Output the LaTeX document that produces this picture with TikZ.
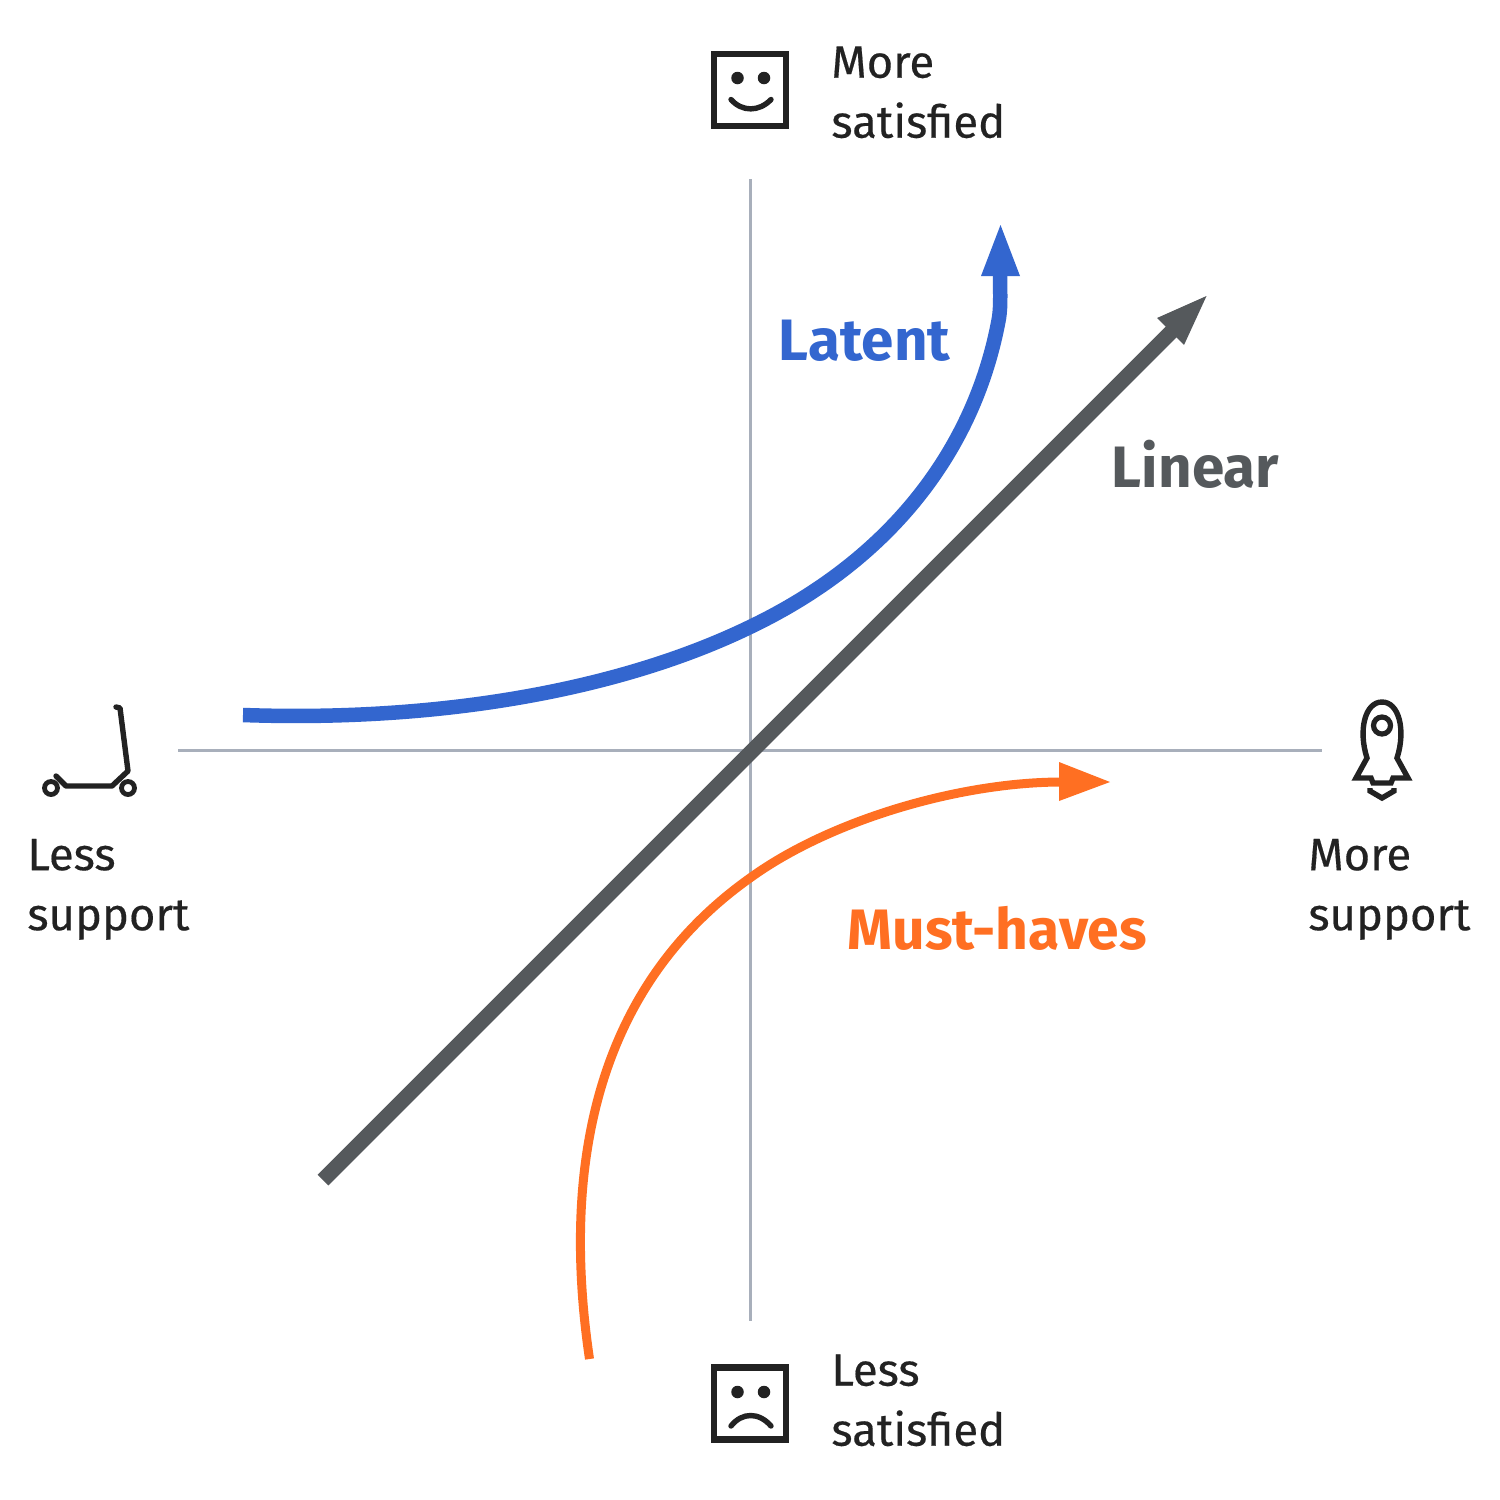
\documentclass[tikz,border=0pt]{standalone}
\usepackage{fontspec}
\setmainfont{Fira Sans}
\newfontface\labfont{Fira Sans}[FakeBold=0.35]
\definecolor{axisc}{HTML}{A8AFBB}
\definecolor{inkc}{HTML}{222222}
\definecolor{bluec}{HTML}{3366CF}
\definecolor{grayc}{HTML}{55595C}
\definecolor{orangec}{HTML}{FF6F22}
\tikzset{
 axisline/.style={draw=axisc,line width=1.5pt},
 icon/.style={draw=inkc,line width=2.7pt,line cap=round,line join=round},
 lab/.style={font=\labfont\fontsize{22.7}{30}\selectfont,text=inkc,anchor=north west,align=left,inner sep=0pt,text width=100pt},
 curve/.style={font=\fontsize{29.2}{30}\selectfont\bfseries,anchor=west,inner sep=0pt},
}
\begin{document}
\begin{tikzpicture}[x=0.5pt,y=-0.5pt]
\useasboundingbox (0,0) rectangle (1500,1500);
\fill[white] (0,0) rectangle (1500,1500);
% axes
\coordinate (xl) at (178,750); \coordinate (xr) at (1322,750);
\coordinate (yt) at (750,179); \coordinate (yb) at (750,1321);
\draw[axisline] (xl) -- (xr);
\draw[axisline] (yt) -- (yb);
% linear
\coordinate (ls) at (323,1180); \coordinate (le) at (1172,331);
\draw[grayc,line width=7.6pt] (ls) -- (le);
\fill[grayc] (1206.5,296) -- (1157,318) -- (1184,345) -- cycle;
% latent
\coordinate (bs) at (243,715); \coordinate (be) at (1000,272);
\draw[bluec,line width=7.25pt] (bs) .. controls (440,722) and (620,690) .. (750,627)
 .. controls (890,560) and (975,450) .. (999,318) .. controls (1001,305) and (1000,290) .. (be);
\fill[bluec] (1000.5,225) -- (1020,276) -- (981,276) -- cycle;
% must-haves
\coordinate (os) at (589.5,1359); \coordinate (oe) at (1062,782);
\draw[orangec,line width=4.5pt] (os) .. controls (566,1200) and (578,1000) .. (750,878)
 .. controls (830,820) and (960,782) .. (oe);
\fill[orangec] (1110,782) -- (1059,762) -- (1059,801) -- cycle;
% happy face
\draw[draw=inkc,line width=3.25pt] (714,54) rectangle (786,126);
\fill[inkc] (737.5,78) circle[radius=6.25];
\fill[inkc] (764,78) circle[radius=6.25];
\draw[icon] (731,99.5) .. controls (742,112) and (759,112) .. (771,99.5);
% sad face
\draw[draw=inkc,line width=3.25pt] (714,1367.5) rectangle (786,1439.5);
\fill[inkc] (737.5,1392) circle[radius=6.25];
\fill[inkc] (764,1392) circle[radius=6.25];
\draw[icon] (731,1426) .. controls (742,1412) and (759,1412) .. (771,1426);
% scooter
\draw[icon] (116,707) -- (120,708) -- (128,771) -- (112,786) -- (66,786) -- (56,776);
\draw[draw=inkc,line width=2.4pt] (51,788) circle[radius=6.5];
\draw[draw=inkc,line width=2.4pt] (128,788) circle[radius=6.5];
% rocket
\draw[icon,line cap=butt,line join=miter] (1367,758) .. controls (1358,730) and (1365,702) .. (1382,702) .. controls (1399,702) and (1406,730) .. (1397,758) -- (1408,778) -- (1393,778) -- (1391,783) -- (1373,783) -- (1371,778) -- (1356,778) -- cycle;
\draw[draw=inkc,line width=2.6pt] (1382,725.5) circle[radius=8.5];
\draw[icon,line cap=butt,line join=miter] (1370,788) -- (1370,791) -- (1382,798) -- (1394,791) -- (1394,788);
% labels
\node[lab] (moresat) at (831,46) {More\\satisfied};
\node[lab] (lesssat) at (831,1354) {Less\\satisfied};
\node[lab] (lesssup) at (27,838.5) {Less\\support};
\node[lab] (moresup) at (1308,838.5) {More\\support};
\node[curve,text=bluec] (latent) at (778.5,341) {Latent};
\node[curve,text=grayc] (linear) at (1111.5,464.5) {Linear};
\node[curve,text=orangec,font=\fontsize{28.5}{30}\selectfont\bfseries] (must) at (847.5,928) {Must-haves};
\end{tikzpicture}
\end{document}
